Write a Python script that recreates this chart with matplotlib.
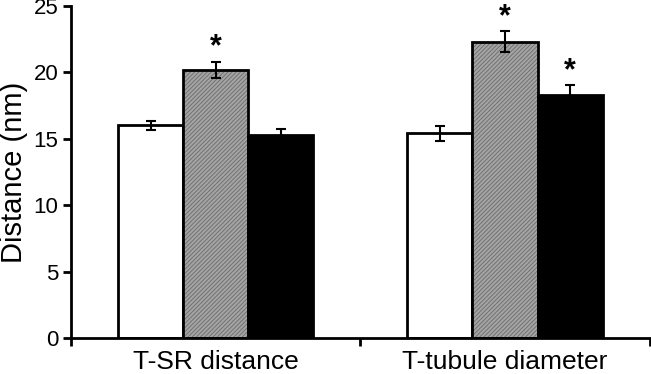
import numpy as np
import matplotlib.pyplot as plt

plt.rcParams['font.family'] = ['Liberation Sans', 'DejaVu Sans']
plt.rcParams['hatch.linewidth'] = 0.6

categories = ['T-SR distance', 'T-tubule diameter']
white_vals = [16.0, 15.4]
white_err = [0.35, 0.55]
gray_vals = [20.2, 22.3]
gray_err = [0.6, 0.8]
black_vals = [15.3, 18.3]
black_err = [0.4, 0.75]
# which bars carry a significance star
gray_star = [True, True]
black_star = [False, True]

fig = plt.figure(figsize=(6.51, 3.74), dpi=100)
ax = fig.add_axes([0.109, 0.0963, 0.889, 0.888])

x = np.arange(len(categories))
w = 0.225

ax.bar(x - w, white_vals, w, color='white', edgecolor='black', linewidth=2, zorder=2)
# gray hatched fill, then black outline on top
ax.bar(x, gray_vals, w, color='#a4a4a4', edgecolor='#6a6a6a', hatch='////////',
       linewidth=0, zorder=2)
ax.bar(x, gray_vals, w, fill=False, edgecolor='black', linewidth=2, zorder=3)
ax.bar(x + w, black_vals, w, color='black', edgecolor='black', linewidth=2, zorder=2)

for off, vals, err in [(-w, white_vals, white_err), (0, gray_vals, gray_err),
                       (w, black_vals, black_err)]:
    ax.errorbar(x + off, vals, yerr=err, fmt='none', ecolor='black',
                elinewidth=1.5, capsize=3.5, capthick=1.5, zorder=4)

for i in range(len(categories)):
    if gray_star[i]:
        ax.text(x[i], gray_vals[i] + gray_err[i] + 0.45, '*', ha='center',
                va='baseline', fontsize=22, fontweight='bold', clip_on=False)
    if black_star[i]:
        ax.text(x[i] + w, black_vals[i] + black_err[i] + 0.45, '*', ha='center',
                va='baseline', fontsize=22, fontweight='bold', clip_on=False)

ax.set_xlim(-0.5, len(categories) - 0.5)
ax.set_ylim(0, 25)
ax.set_yticks([0, 5, 10, 15, 20, 25])
ax.set_xticks(x)
ax.set_xticklabels(categories, fontsize=19)
ax.set_xticks(np.arange(-0.5, len(categories)), minor=True)
ax.tick_params(axis='x', which='major', length=0, pad=9)
ax.tick_params(axis='x', which='minor', length=6, width=2, direction='out')
ax.tick_params(axis='y', labelsize=16, length=6, width=2, direction='out', pad=3)
ax.set_ylabel('Distance (nm)', fontsize=21, labelpad=4)

ax.spines['top'].set_visible(False)
ax.spines['right'].set_visible(False)
ax.spines['left'].set_linewidth(2)
ax.spines['bottom'].set_linewidth(2)

fig.savefig('out.png', dpi=100)
